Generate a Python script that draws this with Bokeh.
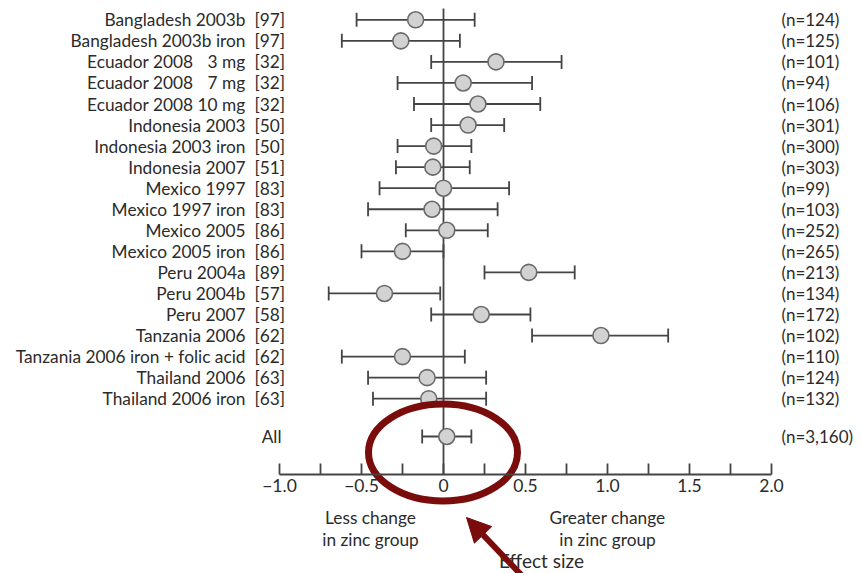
from bokeh.plotting import figure
from bokeh.models import (ColumnDataSource, Whisker, TeeHead, LinearAxis, FixedTicker,
                          CustomJSTickFormatter, Range1d, Arrow, NormalHead)
from bokeh.core.properties import value
from bokeh.embed import file_html
from bokeh.resources import INLINE

# ---------------- data ----------------
studies = ["Bangladesh 2003b", "Bangladesh 2003b iron", "Ecuador 2008 \u20073 mg",
           "Ecuador 2008 \u20077 mg", "Ecuador 2008 10 mg", "Indonesia 2003",
           "Indonesia 2003 iron", "Indonesia 2007", "Mexico 1997", "Mexico 1997 iron",
           "Mexico 2005", "Mexico 2005 iron", "Peru 2004a", "Peru 2004b", "Peru 2007",
           "Tanzania 2006", "Tanzania 2006 iron + folic acid", "Thailand 2006",
           "Thailand 2006 iron"]
refs = ["[97]", "[97]", "[32]", "[32]", "[32]", "[50]", "[50]", "[51]", "[83]", "[83]",
        "[86]", "[86]", "[89]", "[57]", "[58]", "[62]", "[62]", "[63]", "[63]"]
n_labels = ["(n=124)", "(n=125)", "(n=101)", "(n=94)", "(n=106)", "(n=301)", "(n=300)",
            "(n=303)", "(n=99)", "(n=103)", "(n=252)", "(n=265)", "(n=213)", "(n=134)",
            "(n=172)", "(n=102)", "(n=110)", "(n=124)", "(n=132)"]
effect = [-0.17, -0.26, 0.32, 0.12, 0.21, 0.15, -0.06, -0.065, 0.00, -0.07,
          0.02, -0.25, 0.52, -0.36, 0.23, 0.96, -0.25, -0.10, -0.09]
lower = [-0.53, -0.62, -0.075, -0.28, -0.18, -0.075, -0.28, -0.29, -0.39, -0.46,
         -0.23, -0.50, 0.25, -0.70, -0.075, 0.54, -0.62, -0.46, -0.43]
upper = [0.19, 0.10, 0.72, 0.54, 0.59, 0.37, 0.17, 0.16, 0.40, 0.33,
         0.27, 0.00, 0.80, -0.02, 0.53, 1.37, 0.13, 0.26, 0.26]
all_label = "All"
all_n = "(n=3,160)"
all_effect = 0.02
all_lower = -0.13
all_upper = 0.17
tick_values = [-1.0, -0.5, 0.0, 0.5, 1.0, 1.5, 2.0]
minor_tick_values = [-0.75, -0.25, 0.25, 0.75, 1.25, 1.75]
axis_title = "Effect size"
less_text = ["Less change", "in zinc group"]
greater_text = ["Greater change", "in zinc group"]

# ---------------- layout helpers (pixel -> data) ----------------
W, H = 861, 573
X0, XS = 443.0, 164.0          # pixel of x=0, pixels per unit
Y0, YS = 19.3, 21.05           # pixel of first row, pixels per row


def px_x(px):
    return (px - X0) / XS


def px_y(py):
    return (py - Y0) / YS


rows = list(range(len(studies)))
all_row = px_y(436)
axis_y = px_y(474)

FONT = value("Lato")
TXT = "#2b2b2b"
LINE = "#444444"
RED = "#7a0c0c"

p = figure(width=W, height=H, output_backend="svg", toolbar_location=None,
           x_range=Range1d(px_x(0), px_x(W)), y_range=Range1d(px_y(H), px_y(0)),
           x_axis_location=None, y_axis_location=None, min_border=0,
           background_fill_color="white", border_fill_color="white")
p.outline_line_color = None
p.xgrid.visible = False
p.ygrid.visible = False

# vertical reference line at 0
p.segment(x0=[0], y0=[px_y(8)], x1=[0], y1=[axis_y], line_color=LINE, line_width=1.8)

# study rows
src = ColumnDataSource(dict(y=rows, eff=effect, lo=lower, hi=upper,
                            name=studies, ref=refs, n=n_labels))
p.add_layout(Whisker(source=src, base="y", lower="lo", upper="hi", dimension="width",
                     line_color=LINE, line_width=1.8,
                     lower_head=TeeHead(size=14, line_color=LINE, line_width=1.8),
                     upper_head=TeeHead(size=14, line_color=LINE, line_width=1.8)))
p.scatter(x="eff", y="y", source=src, size=16, fill_color="#d2d2d2",
          line_color="#6a6a6a", line_width=1.6)

# overall row
asrc = ColumnDataSource(dict(y=[all_row], eff=[all_effect], lo=[all_lower], hi=[all_upper]))
p.add_layout(Whisker(source=asrc, base="y", lower="lo", upper="hi", dimension="width",
                     line_color=LINE, line_width=1.8,
                     lower_head=TeeHead(size=14, line_color=LINE, line_width=1.8),
                     upper_head=TeeHead(size=14, line_color=LINE, line_width=1.8)))
p.scatter(x="eff", y="y", source=asrc, size=16, fill_color="#d2d2d2",
          line_color="#6a6a6a", line_width=1.6)

# left labels
p.text(x=px_x(245), y="y", text="name", source=src, text_align="right",
       text_baseline="middle", text_font=FONT, text_font_size="17.3px", text_color=TXT)
p.text(x=px_x(254), y="y", text="ref", source=src, text_align="left",
       text_baseline="middle", text_font=FONT, text_font_size="17.3px", text_color=TXT)
p.text(x=px_x(781), y="y", text="n", source=src, text_align="left",
       text_baseline="middle", text_font=FONT, text_font_size="17px", text_color=TXT)
p.text(x=[px_x(281)], y=[all_row], text=[all_label], text_align="right",
       text_baseline="middle", text_font=FONT, text_font_size="17.3px", text_color=TXT)
p.text(x=[px_x(781)], y=[all_row], text=[all_n], text_align="left",
       text_baseline="middle", text_font=FONT, text_font_size="17px", text_color=TXT)

# x axis drawn at fixed location inside the frame
ax = LinearAxis(fixed_location=axis_y, bounds=(tick_values[0], tick_values[-1]),
                ticker=FixedTicker(ticks=tick_values, minor_ticks=minor_tick_values),
                formatter=CustomJSTickFormatter(code="""
                    if (Math.abs(tick) < 1e-9) return "0";
                    return (tick < 0 ? "\u2212" : "") + Math.abs(tick).toFixed(1);
                """))
ax.axis_line_color = LINE
ax.axis_line_width = 1.8
ax.major_tick_in = 11
ax.major_tick_out = 0
ax.minor_tick_in = 11
ax.minor_tick_out = 0
ax.major_tick_line_color = LINE
ax.major_tick_line_width = 1.8
ax.minor_tick_line_color = LINE
ax.minor_tick_line_width = 1.8
ax.major_label_text_font = "Lato"
ax.major_label_text_font_size = "17.5px"
ax.major_label_text_color = TXT
ax.major_label_standoff = 4
p.add_layout(ax, "below")

# explanatory texts under axis
p.text(x=[px_x(370), px_x(370)], y=[px_y(517), px_y(539)], text=less_text,
       text_align="center", text_baseline="middle", text_font=FONT,
       text_font_size="17.3px", text_color=TXT)
p.text(x=[px_x(607), px_x(607)], y=[px_y(517), px_y(539)], text=greater_text,
       text_align="center", text_baseline="middle", text_font=FONT,
       text_font_size="17.3px", text_color=TXT)
p.text(x=[px_x(541)], y=[px_y(560)], text=[axis_title], text_align="center",
       text_baseline="middle", text_font=FONT, text_font_size="19px", text_color=TXT)

# red highlight ellipse and arrow
p.ellipse(x=[px_x(442.5)], y=[px_y(452)], width=[149], height=[97],
          width_units="screen", height_units="screen", fill_alpha=0,
          line_color=RED, line_width=7)
p.add_layout(Arrow(x_start=px_x(528), y_start=px_y(582), x_end=px_x(466), y_end=px_y(517),
                   line_color=RED, line_width=6,
                   end=NormalHead(size=24, fill_color=RED, line_color=RED, line_width=1)))

open("out.html", "w").write(file_html(p, INLINE))
